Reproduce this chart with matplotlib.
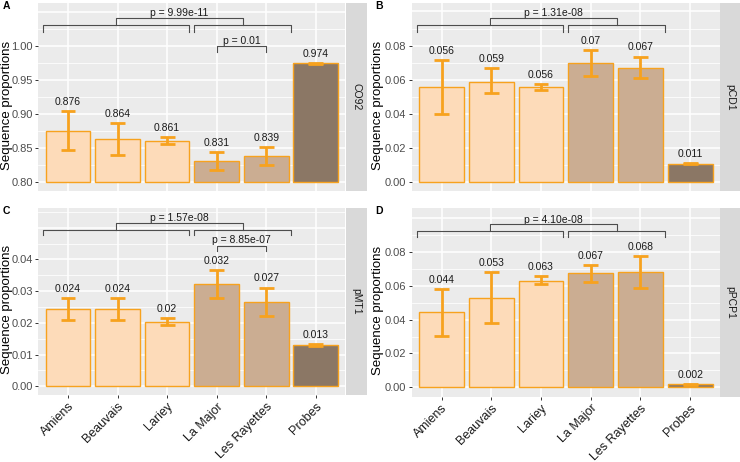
import numpy as np
import matplotlib
matplotlib.use("Agg")
import matplotlib.pyplot as plt
import matplotlib.transforms as mtransforms

plt.rcParams['font.family'] = ['Liberation Sans', 'DejaVu Sans']

# =========================================================
# Data
# =========================================================
sites = ["Amiens", "Beauvais", "Lariey", "La Major", "Les Rayettes", "Probes"]
site_group = [0, 0, 0, 1, 1, 2]

co92_mean = [0.876, 0.864, 0.861, 0.831, 0.839, 0.974]
co92_low = [0.847, 0.840, 0.857, 0.818, 0.826, 0.9736]
co92_high = [0.905, 0.887, 0.866, 0.845, 0.852, 0.9744]

pcd1_mean = [0.056, 0.059, 0.056, 0.070, 0.067, 0.011]
pcd1_low = [0.0402, 0.0521, 0.0541, 0.0623, 0.0609, 0.0108]
pcd1_high = [0.0716, 0.0669, 0.0577, 0.0773, 0.0736, 0.0112]

pmt1_mean = [0.0243, 0.0244, 0.0204, 0.0321, 0.0266, 0.0130]
pmt1_low = [0.0208, 0.0208, 0.0193, 0.0278, 0.0222, 0.0128]
pmt1_high = [0.0277, 0.0277, 0.0214, 0.0366, 0.0311, 0.0132]

ppcp1_mean = [0.0443, 0.0529, 0.0630, 0.0673, 0.0679, 0.0018]
ppcp1_low = [0.0302, 0.0378, 0.0611, 0.0624, 0.0586, 0.0016]
ppcp1_high = [0.0582, 0.0679, 0.0654, 0.0720, 0.0773, 0.0020]

p_outer = ["p = 9.99e-11", "p = 1.31e-08", "p = 1.57e-08", "p = 4.10e-08"]
p_inner = ["p = 0.01", None, "p = 8.85e-07", None]

# =========================================================
# Style
# =========================================================
fills = ["#FDDBB9", "#CBAD92", "#8B7765"]
orange = "#F7A21E"
panel_bg = "#EBEBEB"
strip_bg = "#D9D9D9"
W, H = 740, 462

# name, strip, mean, low, high, base, ylim, major ticks, extra grid, minor grid
panels = [
    ("A", "CO92", co92_mean, co92_low, co92_high, 0.8, (0.788, 1.062),
     [0.80, 0.85, 0.90, 0.95, 1.00], [1.05], np.arange(0.825, 1.06, 0.05)),
    ("B", "pCD1", pcd1_mean, pcd1_low, pcd1_high, 0.0, (-0.0049, 0.1048),
     [0.00, 0.02, 0.04, 0.06, 0.08], [0.10], np.arange(0.01, 0.1, 0.02)),
    ("C", "pMT1", pmt1_mean, pmt1_low, pmt1_high, 0.0, (-0.00275, 0.0562),
     [0.00, 0.01, 0.02, 0.03, 0.04], [0.05], np.arange(0.005, 0.056, 0.01)),
    ("D", "pPCP1", ppcp1_mean, ppcp1_low, ppcp1_high, 0.0, (-0.0055, 0.1058),
     [0.00, 0.02, 0.04, 0.06, 0.08], [0.10], np.arange(0.01, 0.1, 0.02)),
]

# pixel boxes: left, top, right, bottom
boxes = [(38.3, 3.3, 345.5, 190.7), (411.7, 3.3, 720, 190.7),
         (38.3, 208, 345.5, 395), (411.7, 208, 720, 396.7)]
strip_right = [367, 740, 367, 740]

# bracket fractions: outer (top, low, tip, text), inner (top, tip, text)
outer_y = [(0.92, 0.884, 0.848, 0.947), (0.92, 0.884, 0.848, 0.947),
           (0.918, 0.882, 0.856, 0.944), (0.913, 0.876, 0.844, 0.939)]
inner_y = [(0.774, 0.739, 0.797), None, (0.798, 0.770, 0.829), None]

fig = plt.figure(figsize=(W / 100, H / 100), dpi=100)

for i, (letter, strip, mean, low, high, base, ylim, ticks, extra, minor) in enumerate(panels):
    l, t, r, b = boxes[i]
    ax = fig.add_axes([l / W, 1 - b / H, (r - l) / W, (b - t) / H])
    ax.set_facecolor(panel_bg)
    for s in ax.spines.values():
        s.set_visible(False)

    x = np.arange(1, len(sites) + 1)
    mean = np.array(mean)
    ax.bar(x, mean - base, bottom=base, width=0.9,
           color=[fills[g] for g in site_group], edgecolor=orange,
           linewidth=1.0, zorder=3)
    ax.vlines(x, low, high, color=orange, linewidth=2.0, zorder=4)
    ax.hlines(low, x - 0.15, x + 0.15, color=orange, linewidth=2.0, zorder=4)
    ax.hlines(high, x - 0.15, x + 0.15, color=orange, linewidth=2.0, zorder=4)
    for xi, yi, v in zip(x, high, mean):
        ax.annotate(f"{round(v, 3):g}", (xi, yi), xytext=(0, 3),
                    textcoords="offset points", ha="center", va="bottom",
                    fontsize=7.5, color="#1A1A1A", zorder=5)

    ax.set_xlim(0.4, 6.6)
    ax.set_ylim(*ylim)
    ax.set_yticks(ticks)
    ax.set_yticklabels([f"{v:.2f}" for v in ticks])
    ax.set_yticks(minor, minor=True)
    ax.set_xticks(x)
    ax.grid(True, which="major", color="white", linewidth=1.1, zorder=0)
    ax.grid(True, which="minor", axis="y", color="white", linewidth=0.55, zorder=0)
    for e in extra:
        ax.axhline(e, color="white", linewidth=1.1, zorder=0.5)
    ax.set_axisbelow(True)
    ax.tick_params(axis="y", which="major", length=2.5, width=0.7, color="#333333",
                   labelsize=8, labelcolor="#4D4D4D", pad=1.5)
    ax.tick_params(axis="y", which="minor", length=0)
    if letter in ("C", "D"):
        ax.set_xticklabels(sites, rotation=45, ha="right", rotation_mode="anchor",
                           fontsize=9, color="#1A1A1A")
        ax.tick_params(axis="x", length=2.5, width=0.7, color="#333333", pad=1.5)
    else:
        ax.tick_params(axis="x", length=0, labelbottom=False)

    # significance brackets
    trans = mtransforms.blended_transform_factory(ax.transData, ax.transAxes)
    top, lo, tip, ty = outer_y[i]
    kw = dict(color="#4D4D4D", linewidth=0.8, transform=trans, clip_on=False, zorder=6)
    ax.plot([0.5, 0.5, 3.45, 3.45], [tip, lo, lo, tip], **kw)
    ax.plot([3.55, 3.55, 5.5, 5.5], [tip, lo, lo, tip], **kw)
    ax.plot([1.975, 1.975, 4.525, 4.525], [lo, top, top, lo], **kw)
    ax.text(3.25, ty, p_outer[i], transform=trans, ha="center", va="center",
            fontsize=7.5, color="#1A1A1A")
    if p_inner[i]:
        itop, itip, ity = inner_y[i]
        ax.plot([4, 4, 5, 5], [itip, itop, itop, itip], **kw)
        ax.text(4.5, ity, p_inner[i], transform=trans, ha="center", va="center",
                fontsize=7.5, color="#1A1A1A")

    # facet strip
    sax = fig.add_axes([r / W, 1 - b / H, (strip_right[i] - r) / W, (b - t) / H])
    sax.set_facecolor(strip_bg)
    sax.set_xticks([])
    sax.set_yticks([])
    for s in sax.spines.values():
        s.set_visible(False)
    sax.text(0.5, 0.5, strip, rotation=-90, ha="center", va="center",
             fontsize=7.5, color="#1A1A1A", transform=sax.transAxes)

    # y label and panel letter
    lab_x = 7 if l < 100 else 378
    fig.text(lab_x / W, 1 - ((t + b) / 2 + 8) / H, "Sequence proportions",
             rotation=90, ha="center", va="center", fontsize=9.5, color="black")
    fig.text((l - 36) / W, 1 - (t + 3) / H, letter, ha="left", va="center",
             fontsize=7.5, fontweight="bold", color="black")

fig.savefig("out.png", dpi=100)
